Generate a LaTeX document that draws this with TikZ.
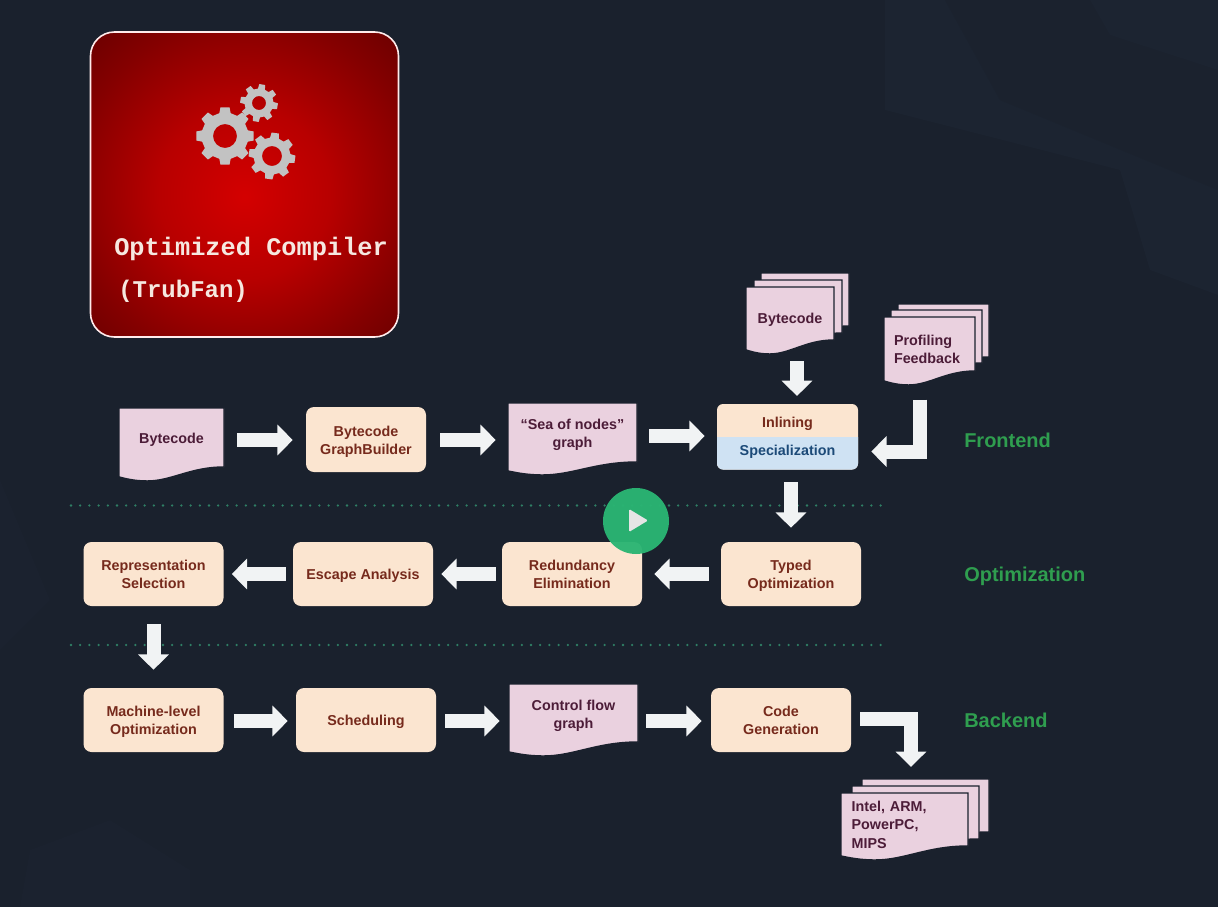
\documentclass[tikz,border=0pt]{standalone}
\usepackage{fontspec}
\setmainfont{Liberation Sans}
\newfontfamily\monof{Liberation Mono}
\usetikzlibrary{arrows.meta,shapes.geometric}
\definecolor{bgc}{HTML}{1A212D}
\definecolor{bgl}{HTML}{1C2431}
\definecolor{boxc}{HTML}{FBE5D0}
\definecolor{boxt}{HTML}{762A1C}
\definecolor{docc}{HTML}{EAD1DF}
\definecolor{doct}{HTML}{4C1C38}
\definecolor{specc}{HTML}{CFE2F3}
\definecolor{spect}{HTML}{1C4A78}
\definecolor{arrc}{HTML}{F1F3F4}
\definecolor{grn}{HTML}{2F9E4F}
\definecolor{dotc}{HTML}{2F7F65}
\definecolor{gearc}{HTML}{C2C2C2}
\definecolor{playc}{HTML}{2AB573}
\definecolor{capc}{HTML}{F6E8E0}
\pgfdeclareradialshading{redglow}{\pgfpoint{0bp}{-2bp}}{rgb(0bp)=(0.83,0,0);rgb(14bp)=(0.72,0,0);rgb(28bp)=(0.52,0,0);rgb(40bp)=(0.37,0,0);rgb(55bp)=(0.34,0,0)}
\newcommand\bodyfont{\fontsize{10.75}{13.8}\selectfont\bfseries}
\newcommand\lowr{\rule{0pt}{11.5pt}}
\tikzset{
  x=0.75pt,y=-0.75pt,
  struts/.style={execute at begin node={\rule{0pt}{11pt}},execute at end node={\rule[-2.9pt]{0pt}{2.9pt}}},
  proc/.style={rectangle,rounded corners=6pt,fill=boxc,text=boxt,font=\bodyfont,align=center,inner sep=0pt,minimum width=105pt,minimum height=48pt,struts},
  doctext/.style={rectangle,text=doct,font=\bodyfont,align=center,inner sep=0pt,struts},
  duotext/.style={font=\bodyfont,inner sep=0pt,struts},
  docbody/.style={fill=docc,draw=bgc,line width=1.1pt,line join=miter},
  blockarrow/.style={draw=arrc,line width=10.5pt,line join=miter,-{Triangle[width=22.5pt,length=11.5pt]}},
  seplabel/.style={text=grn,font=\fontsize{15}{18}\selectfont\bfseries,anchor=west,inner sep=0pt,execute at begin node={\rule{0pt}{14pt}},execute at end node={\rule[-3.2pt]{0pt}{3.2pt}}},
  sepline/.style={draw=dotc,line width=1.9pt,line cap=round,dash pattern=on 0pt off 6.9pt},
  gear/.style={fill=gearc,even odd rule},
  captext/.style={text=capc,monof,anchor=west,inner sep=0pt},
  monof/.style={font=\fontsize{19}{23}\selectfont\monof\bfseries}
}
% wavy document path
\newcommand\docpath[5]{(#1,#2) -- (#3,#2) -- (#3,#4) .. controls ({#1+0.68*(#3-#1)},#4) and ({#1+0.5*(#3-#1)},{#5+4}) .. ({#1+0.27*(#3-#1)},{#5+4}) .. controls ({#1+0.14*(#3-#1)},{#5+4}) and ({#1+0.06*(#3-#1)},{#5+1.5}) .. (#1,#5) -- cycle}
% \docnode[node options]{name}{x0}{y0}{x1}{yr}{yl}{text y}{text}
\newcommand\docnode[9][]{%
  \path[docbody] \docpath{#3}{#4}{#5}{#6}{#7};
  \pgfmathsetmacro\dw{(#5-#3)*0.75}
  \pgfmathsetmacro\dh{(#6-#4)*0.75}
  \node[doctext,minimum width=\dw pt,minimum height=\dh pt,#1] (#2) at ({(#3+#5)/2},#8) {#9};}
\newcommand\gearshape[7]{% cx cy outer root hole teeth rot
  \begin{scope}[shift={(#1,#2)}]
  \pgfmathsetmacro\st{360/#6}
  \pgfmathsetmacro\hwa{\st*0.31}
  \pgfmathsetmacro\hwb{\st*0.2}
  \pgfmathtruncatemacro\la{#6-1}
  \path[gear] ({#7-\hwa}:#4) \foreach \i in {0,...,\la}{
     -- ({#7+\i*\st-\hwa}:#4) -- ({#7+\i*\st-\hwb}:#3) -- ({#7+\i*\st+\hwb}:#3) -- ({#7+\i*\st+\hwa}:#4)
  } -- cycle (0,0) circle[radius=#5];
  \end{scope}}
\begin{document}
\begin{tikzpicture}
\useasboundingbox (0,0) rectangle (1218,907);
\fill[bgc] (0,0) rectangle (1218,907);
% faint background shapes
\fill[bgl] (885,0) -- (1218,0) -- (1218,295) -- (1150,270) -- (1120,170) -- (885,110) -- cycle;
\fill[bgc!70!bgl] (945,0) -- (1218,0) -- (1218,190) -- (1000,100) -- cycle;
\fill[bgl] (1090,0) -- (1218,0) -- (1218,70) -- (1110,35) -- cycle;
\fill[bgc!60!bgl] (0,480) -- (50,600) -- (0,650) -- cycle;
\fill[bgc!60!bgl] (20,907) -- (30,850) -- (110,820) -- (190,870) -- (190,907) -- cycle;

% title card
\path[rounded corners=18pt,draw=white!92!red,line width=1.2pt,shading=redglow] (90.5,32) rectangle (398.5,337);
\gearshape{225}{136}{29}{23.5}{12}{8}{0}
\gearshape{259}{103}{19}{14.5}{7}{8}{10}
\gearshape{272}{156}{23.5}{18.5}{10}{8}{8}
\node[captext] (capa) at (114,249) {Optimized Compiler};
\node[captext,font=\fontsize{18}{22}\selectfont\monof\bfseries] (capb) at (118,291) {(TrubFan)};

% separators
\coordinate (sepaL) at (71,505.5); \coordinate (sepaR) at (882,505.5);
\coordinate (sepbL) at (71,645); \coordinate (sepbR) at (882,645);
\draw[sepline] (sepaL) -- (sepaR);
\draw[sepline] (sepbL) -- (sepbR);

% row 1
\docnode{bc}{119}{408}{224}{467}{477}{438}{Bytecode}
\node[proc,minimum width=90pt,minimum height=48.75pt] (gb) at (366,439.5) {\lowr Bytecode\\GraphBuilder};
\docnode{sea}{508}{403}{637}{462}{471}{433}{\lowr “Sea of nodes”\\graph}
\fill[boxc,rounded corners=4.5pt] (717,404) rectangle (858,469.5);
\fill[specc] (717,437) -- (858,437) [rounded corners=4.5pt] -- (858,469.5) -- (717,469.5) [sharp corners] -- cycle;
\node[rectangle,inner sep=0pt,minimum width=105.75pt,minimum height=48.75pt] (inl) at (787.5,436.75) {};
\node[duotext,text=boxt] (inltx) at (787.5,422) {Inlining};
\node[duotext,text=spect] (spectx) at (787.5,450.5) {Specialization};
% stacked inputs
\path[docbody] \docpath{761}{273}{849}{326}{335};
\path[docbody] \docpath{754}{280}{842}{333}{342};
\docnode{bcs}{746}{287}{834}{340}{350}{318.5}{Bytecode}
\path[docbody] \docpath{898}{304}{989}{357}{366};
\path[docbody] \docpath{891}{310}{982}{363}{372};
\docnode[align=left,text width=53.25pt,inner xsep=7.5pt]{fb}{884}{317}{975}{371}{381}{349}{Profiling\\Feedback}

% row 2
\node[proc] (typed) at (791,574) {\lowr Typed\\Optimization};
\node[proc] (red) at (572,574) {\lowr Redundancy\\Elimination};
\node[proc] (esc) at (363,574) {Escape Analysis};
\node[proc] (rep) at (153.5,574) {\lowr Representation\\Selection};

% row 3
\node[proc] (mach) at (153.5,720) {\lowr Machine-level\\Optimization};
\node[proc] (sched) at (366,720) {Scheduling};
\docnode{cfg}{509}{684}{638}{742}{752}{714}{\lowr Control flow\\graph}
\node[proc] (code) at (781,720) {\lowr Code\\Generation};
\path[docbody] \docpath{862}{779}{989}{832}{841};
\path[docbody] \docpath{852}{786}{979}{839}{848};
\docnode[align=left,text width=79.25pt,inner xsep=8pt]{out}{841}{793}{968}{846}{856}{824.5}{Intel, ARM,\\PowerPC,\\MIPS}

% row levels for connectors
\coordinate (ra) at (0,440);
\coordinate (rb) at (0,436);
\coordinate (rc) at (0,574);
\coordinate (rd) at (0,721);
\coordinate (cb) at (797,0);
\coordinate (cc) at (791,0);
\coordinate (fbx) at (920,0);
\coordinate (fby) at (0,451.5);
\coordinate (cdx) at (911,0);
\coordinate (cdy) at (0,719);

% connectors
\draw[blockarrow,shorten <=9.75pt,shorten >=9.75pt] (bc.east |- ra) -- (gb.west |- ra);
\draw[blockarrow,shorten <=10.5pt,shorten >=9pt] (gb.east |- ra) -- (sea.west |- ra);
\draw[blockarrow,shorten <=9pt,shorten >=9pt] (sea.east |- rb) -- (inl.west |- rb);
\draw[blockarrow,shorten <=12pt,shorten >=6pt] (bcs.south -| cb) -- (inl.north -| cb);
\draw[blockarrow,shorten <=9.5pt,shorten >=10.5pt] (inl.south -| cc) -- (typed.north -| cc);
\draw[blockarrow,shorten <=9pt,shorten >=9pt] (typed.west |- rc) -- (red.east |- rc);
\draw[blockarrow,shorten <=4.5pt,shorten >=6pt] (red.west |- rc) -- (esc.east |- rc);
\draw[blockarrow,shorten <=5.25pt,shorten >=6pt] (esc.west |- rc) -- (rep.east |- rc);
\draw[blockarrow,shorten <=13.5pt,shorten >=13.5pt] (rep.south) -- (mach.north);
\draw[blockarrow,shorten <=7.5pt,shorten >=6pt] (mach.east |- rd) -- (sched.west |- rd);
\draw[blockarrow,shorten <=6.75pt,shorten >=6.75pt] (sched.east |- rd) -- (cfg.west |- rd);
\draw[blockarrow,shorten <=6pt,shorten >=6.75pt] (cfg.east |- rd) -- (code.west |- rd);
\draw[blockarrow,shorten <=17.5pt,shorten >=9.75pt] (fb.south -| fbx) |- (inl.east |- fby);
\draw[blockarrow,shorten <=6.75pt,shorten >=22.25pt] (code.east |- cdy) -| (out.north -| cdx);

% stage labels
\node[seplabel] (lf) at (964,440) {Frontend};
\node[seplabel] (lo) at (964,574.5) {Optimization};
\node[seplabel] (lb) at (964,720.5) {Backend};

% play button
\node[circle,fill=playc,fill opacity=0.96,minimum size=49.5pt,inner sep=0pt] (play) at (636,521) {};
\fill[white!90!black,rounded corners=1pt] (629,509) -- (648,520.5) -- (629,532) -- cycle;
\end{tikzpicture}
\end{document}
